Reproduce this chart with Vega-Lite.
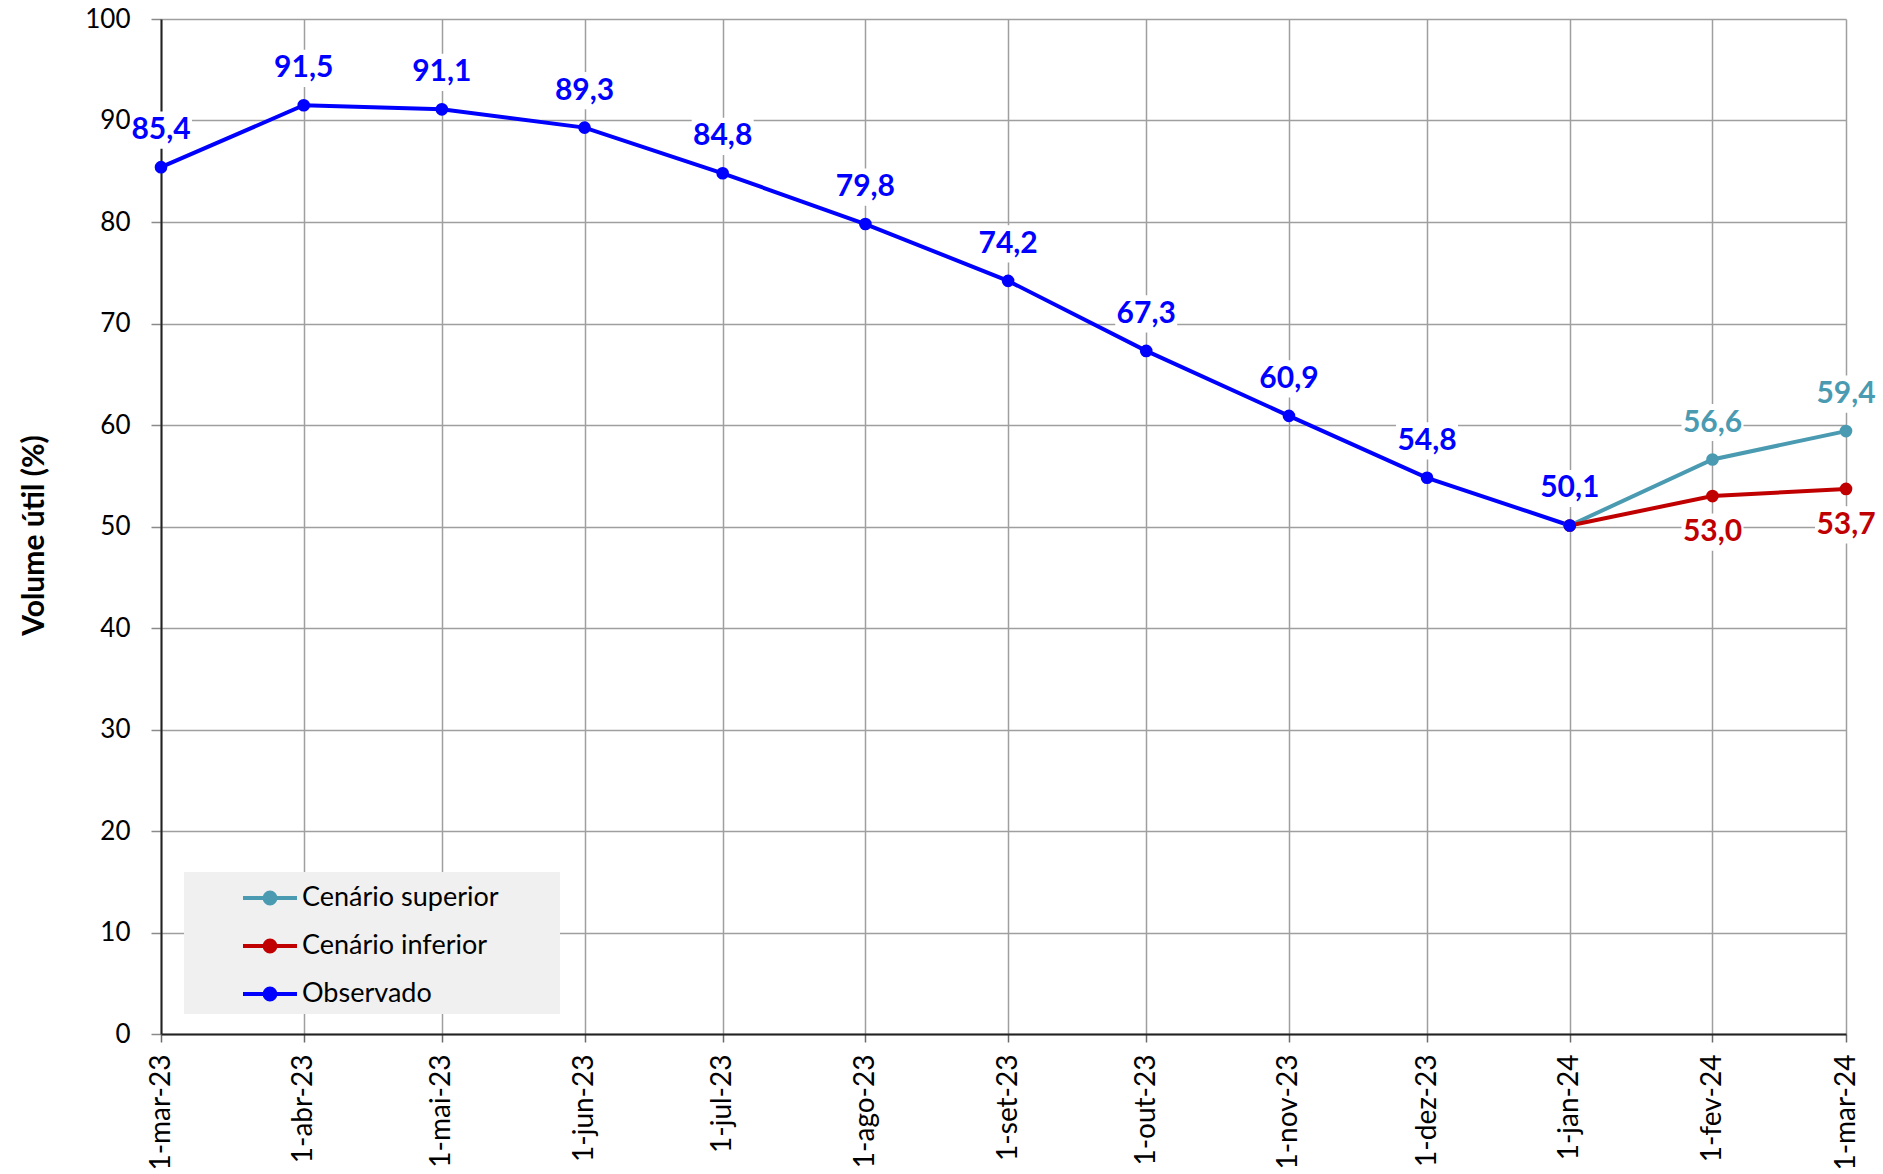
{
  "$schema": "https://vega.github.io/schema/vega-lite/v6.json",
  "width": 1685,
  "height": 1015,
  "autosize": {"type": "none"},
  "padding": {"left": 161, "top": 19, "right": 37, "bottom": 140},
  "background": "white",
  "config": {
    "font": "Lato",
    "view": {"stroke": null},
    "locale": {
      "number": {"decimal": ",", "thousands": ".", "grouping": [3], "currency": ["R$", ""]}
    },
    "axis": {
      "labelFont": "Lato",
      "labelFontSize": 25,
      "labelColor": "black",
      "domainColor": "#222222",
      "domainWidth": 2,
      "gridColor": "#9f9f9f",
      "gridWidth": 1.5,
      "tickColor": "#6a6a6a",
      "tickWidth": 1.5
    }
  },
  "data": {
    "values": [
      {"date": "2024-01-01", "series": "Cenário superior", "value": 50.1},
      {"date": "2024-02-01", "series": "Cenário superior", "value": 56.6},
      {"date": "2024-03-01", "series": "Cenário superior", "value": 59.4},
      {"date": "2024-01-01", "series": "Cenário inferior", "value": 50.1},
      {"date": "2024-02-01", "series": "Cenário inferior", "value": 53.0},
      {"date": "2024-03-01", "series": "Cenário inferior", "value": 53.7},
      {"date": "2023-03-01", "series": "Observado", "value": 85.4},
      {"date": "2023-04-01", "series": "Observado", "value": 91.5},
      {"date": "2023-05-01", "series": "Observado", "value": 91.1},
      {"date": "2023-06-01", "series": "Observado", "value": 89.3},
      {"date": "2023-07-01", "series": "Observado", "value": 84.8},
      {"date": "2023-08-01", "series": "Observado", "value": 79.8},
      {"date": "2023-09-01", "series": "Observado", "value": 74.2},
      {"date": "2023-10-01", "series": "Observado", "value": 67.3},
      {"date": "2023-11-01", "series": "Observado", "value": 60.9},
      {"date": "2023-12-01", "series": "Observado", "value": 54.8},
      {"date": "2024-01-01", "series": "Observado", "value": 50.1}
    ]
  },
  "encoding": {
    "x": {
      "field": "date",
      "type": "temporal",
      "scale": {
        "type": "utc",
        "nice": false,
        "domain": [
          {"year": 2023, "month": 3, "date": 1, "utc": true},
          {"year": 2024, "month": 3, "date": 1, "utc": true}
        ]
      },
      "axis": {
        "title": null,
        "grid": true,
        "values": [
          {"year": 2023, "month": 3, "date": 1, "utc": true},
          {"year": 2023, "month": 4, "date": 1, "utc": true},
          {"year": 2023, "month": 5, "date": 1, "utc": true},
          {"year": 2023, "month": 6, "date": 1, "utc": true},
          {"year": 2023, "month": 7, "date": 1, "utc": true},
          {"year": 2023, "month": 8, "date": 1, "utc": true},
          {"year": 2023, "month": 9, "date": 1, "utc": true},
          {"year": 2023, "month": 10, "date": 1, "utc": true},
          {"year": 2023, "month": 11, "date": 1, "utc": true},
          {"year": 2023, "month": 12, "date": 1, "utc": true},
          {"year": 2024, "month": 1, "date": 1, "utc": true},
          {"year": 2024, "month": 2, "date": 1, "utc": true},
          {"year": 2024, "month": 3, "date": 1, "utc": true}
        ],
        "labelExpr": "'1-' + ['jan','fev','mar','abr','mai','jun','jul','ago','set','out','nov','dez'][utcmonth(datum.value)] + '-' + utcFormat(datum.value, '%y')",
        "labelAngle": -90,
        "labelAlign": "right",
        "labelBaseline": "middle",
        "labelFontSize": 28,
        "labelPadding": 12,
        "tickSize": 8,
        "labelOverlap": false,
        "labelFlush": false
      }
    },
    "y": {
      "field": "value",
      "type": "quantitative",
      "scale": {"domain": [0, 100], "nice": false},
      "axis": {
        "title": "Volume útil (%)",
        "values": [0, 10, 20, 30, 40, 50, 60, 70, 80, 90, 100],
        "grid": true,
        "tickSize": 10,
        "tickColor": "#8a8a8a",
        "labelPadding": 21,
        "labelFontSize": 26,
        "titleFont": "Lato",
        "titleFontSize": 30,
        "titleFontWeight": "bold",
        "titleColor": "black",
        "titleX": -127,
        "titleY": 516,
        "titleAngle": -90,
        "titleAlign": "center",
        "titleBaseline": "middle"
      }
    }
  },
  "layer": [
    {
      "mark": {"type": "line", "strokeWidth": 4},
      "encoding": {
        "color": {
          "field": "series",
          "type": "nominal",
          "scale": {
            "domain": ["Cenário superior", "Cenário inferior", "Observado"],
            "range": ["#4A9BB1", "#C00000", "#0000FF"]
          },
          "legend": {
            "title": null,
            "orient": "none",
            "legendX": 23,
            "legendY": 853,
            "fillColor": "#f0f0f0",
            "padding": 6,
            "symbolType": "M-1.5,0H1.5M-0.3,0A0.3,0.3 0 1,1 0.3,0A0.3,0.3 0 1,1 -0.3,0",
            "symbolSize": 1296,
            "symbolStrokeWidth": 4,
            "symbolOffset": 60,
            "labelOffset": 12,
            "rowPadding": 14,
            "labelFont": "Lato",
            "labelFontSize": 27,
            "labelColor": "black",
            "labelLimit": 600,
            "labelExpr": "datum.label + '\u00a0\u00a0\u00a0\u00a0\u00a0\u00a0\u00a0\u00a0\u200b'",
            "encode": {
              "symbols": {
                "update": {
                  "fill": {"scale": "color", "field": "value"},
                  "opacity": {"value": 1}
                }
              }
            }
          }
        }
      }
    },
    {
      "mark": {"type": "point", "filled": true, "size": 160, "opacity": 1},
      "encoding": {
        "color": {"field": "series", "type": "nominal"}
      }
    },
    {
      "transform": [{"filter": "datum.series === 'Observado' || (datum.series === 'Cenário superior' && datum.value !== 50.1)"}],
      "mark": {"type": "point", "shape": "M-1,-0.6H1V0.6H-1Z", "size": 3844, "filled": true, "fill": "white", "opacity": 1, "strokeWidth": 0, "yOffset": -37},
      "encoding": {}
    },
    {
      "transform": [{"filter": "datum.series === 'Cenário inferior' && datum.value !== 50.1"}],
      "mark": {"type": "point", "shape": "M-1,-0.6H1V0.6H-1Z", "size": 3844, "filled": true, "fill": "white", "opacity": 1, "strokeWidth": 0, "yOffset": 36},
      "encoding": {}
    },
    {
      "transform": [{"filter": "datum.series === 'Observado' || (datum.series === 'Cenário superior' && datum.value !== 50.1)"}],
      "mark": {"type": "text", "font": "Lato", "fontSize": 30, "fontWeight": "bold", "dy": -37, "baseline": "middle", "align": "center"},
      "encoding": {
        "text": {"field": "value", "type": "quantitative", "format": ".1f"},
        "color": {"field": "series", "type": "nominal"}
      }
    },
    {
      "transform": [{"filter": "datum.series === 'Cenário inferior' && datum.value !== 50.1"}],
      "mark": {"type": "text", "font": "Lato", "fontSize": 30, "fontWeight": "bold", "dy": 36, "baseline": "middle", "align": "center"},
      "encoding": {
        "text": {"field": "value", "type": "quantitative", "format": ".1f"},
        "color": {"field": "series", "type": "nominal"}
      }
    }
  ]
}
